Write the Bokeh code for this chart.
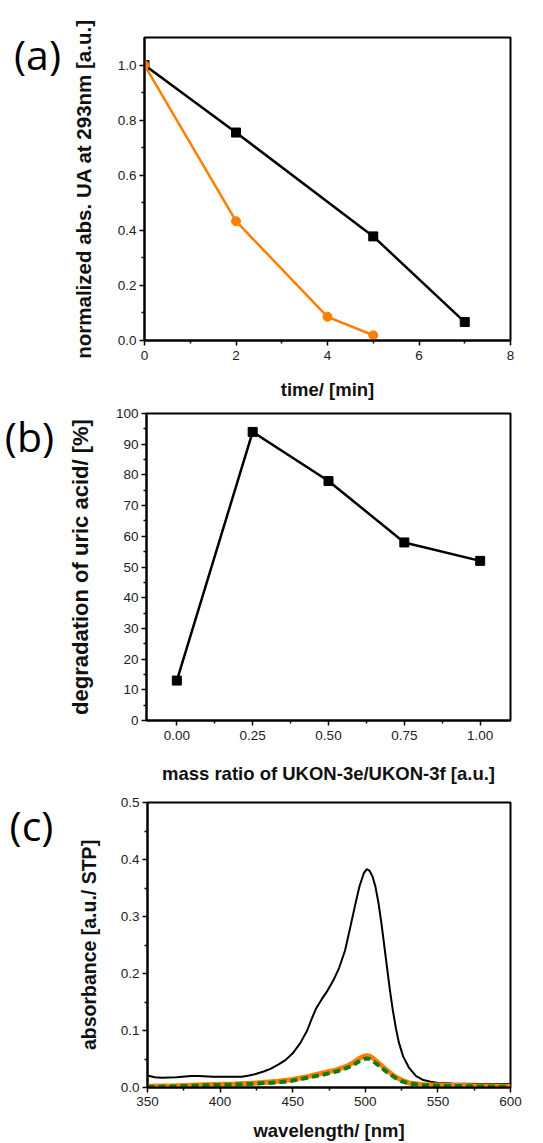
from bokeh.plotting import figure
from bokeh.layouts import column, row
from bokeh.models import FixedTicker, PrintfTickFormatter, Range1d
from bokeh.core.properties import value
from bokeh.embed import file_html
from bokeh.resources import INLINE

# ---- panel (a) data ----
time_black = [0, 2, 5, 7]
abs_black = [1.0, 0.755, 0.378, 0.067]
time_orange = [0, 2, 4, 5]
abs_orange = [1.0, 0.433, 0.086, 0.019]

# ---- panel (b) data ----
mass_ratio = [0.0, 0.25, 0.5, 0.75, 1.0]
degradation = [13, 94, 78, 58, 52]

# ---- panel (c) data ----
wl_black = [350, 355, 360, 370, 380, 385, 395, 405, 415, 420, 425, 430, 435, 440, 445,
            450, 455, 460, 463, 466, 470, 474, 478, 482, 486, 490, 493, 496, 499, 501,
            503, 505, 507, 509, 511, 513, 515, 517, 519, 521, 523, 526, 530, 535, 540,
            545, 550, 560, 580, 600]
ab_black = [0.021, 0.018, 0.017, 0.018, 0.020, 0.020, 0.019, 0.019, 0.019, 0.021, 0.024,
            0.028, 0.033, 0.040, 0.048, 0.060, 0.077, 0.100, 0.120, 0.138, 0.155, 0.170,
            0.188, 0.210, 0.240, 0.285, 0.320, 0.353, 0.376, 0.383, 0.380, 0.370, 0.352,
            0.325, 0.290, 0.250, 0.210, 0.170, 0.135, 0.105, 0.080, 0.055, 0.035, 0.020,
            0.013, 0.010, 0.008, 0.007, 0.006, 0.006]
wl_color = [350, 370, 390, 410, 425, 440, 450, 460, 470, 480, 487, 492, 496, 499, 501,
            503, 506, 510, 515, 520, 525, 530, 540, 555, 575, 600]
ab_orange = [0.002, 0.003, 0.005, 0.006, 0.008, 0.011, 0.014, 0.019, 0.025, 0.031, 0.037,
             0.044, 0.051, 0.055, 0.056, 0.055, 0.050, 0.041, 0.030, 0.020, 0.013, 0.008,
             0.005, 0.004, 0.003, 0.002]
ab_green = [0.001, 0.002, 0.004, 0.005, 0.007, 0.009, 0.012, 0.017, 0.022, 0.028, 0.034,
            0.040, 0.046, 0.050, 0.051, 0.050, 0.045, 0.037, 0.027, 0.018, 0.011, 0.007,
            0.004, 0.003, 0.002, 0.001]

panel_letters = ["(a)", "(b)", "(c)"]

ORANGE = "#FF7F00"
GREEN = "#127A12"
TICK_FONT = "Liberation Sans"
TICK_SIZE = "13.5px"
XLABEL_SIZE = "18.5px"
LETTER_W = 64
MAIN_W = 543 - LETTER_W


def style(p, xlabel, ylabel, xticks, xminor, yticks, yminor, xfmt, yfmt,
          xstand, ystand, ysize, xlabstand=5):
    p.outline_line_color = "black"
    p.outline_line_width = 2
    p.outline_line_alpha = 1
    p.xgrid.visible = False
    p.ygrid.visible = False
    p.background_fill_color = "white"
    p.border_fill_color = "white"
    for ax, ticks, minor, fmt, lab, stand, size in (
        (p.xaxis[0], xticks, xminor, xfmt, xlabel, xstand, XLABEL_SIZE),
        (p.yaxis[0], yticks, yminor, yfmt, ylabel, ystand, ysize),
    ):
        ax.ticker = FixedTicker(ticks=ticks, minor_ticks=minor)
        ax.formatter = PrintfTickFormatter(format=fmt)
        ax.axis_line_width = 2
        ax.axis_line_color = "black"
        ax.major_tick_line_width = 1.5
        ax.minor_tick_line_width = 1.5
        ax.major_tick_out = 5
        ax.major_tick_in = 0
        ax.minor_tick_out = 3
        ax.minor_tick_in = 0
        ax.major_label_text_font = TICK_FONT
        ax.major_label_text_font_size = TICK_SIZE
        ax.major_label_text_color = "#222222"
        ax.axis_label = lab
        ax.axis_label_text_font = TICK_FONT
        ax.axis_label_text_font_size = size
        ax.axis_label_text_font_style = "bold"
        ax.axis_label_text_color = "#111111"
        ax.axis_label_standoff = stand
    p.xaxis[0].major_label_standoff = xlabstand
    p.yaxis[0].major_label_standoff = 3


def letter_fig(height, txt, cx, cy):
    f = figure(width=LETTER_W, height=height, output_backend="svg", toolbar_location=None,
               title=None, frame_align=False,
               x_range=Range1d(0, LETTER_W), y_range=Range1d(height, 0),
               x_axis_location=None, y_axis_location=None,
               min_border=0, min_border_left=0, min_border_right=0,
               min_border_top=0, min_border_bottom=0)
    f.outline_line_color = None
    f.xgrid.visible = False
    f.ygrid.visible = False
    f.text(x=[cx], y=[cy], text=[txt], text_font=value("Open Sans"),
           text_font_size="41px", text_color="black",
           text_align="center", text_baseline="middle")
    return f


# ---------- (a) ----------
HA = 402
pa = figure(width=MAIN_W, height=HA, output_backend="svg", toolbar_location=None,
            x_range=Range1d(0, 8), y_range=Range1d(0, 1.1),
            min_border_left=144 - LETTER_W, min_border_right=33,
            min_border_top=37, min_border_bottom=62)
style(pa, "time/ [min]", "normalized abs. UA at 293nm [a.u.]",
      [0, 2, 4, 6, 8], [1, 3, 5, 7],
      [0.0, 0.2, 0.4, 0.6, 0.8, 1.0], [0.1, 0.3, 0.5, 0.7, 0.9],
      "%d", "%.1f", 16, 20, "20.5px")
pa.line(time_black, abs_black, line_color="black", line_width=2.5)
pa.scatter(time_black, abs_black, marker="square", size=9, fill_color="black", line_color="black")
pa.line(time_orange, abs_orange, line_color=ORANGE, line_width=2.5)
pa.scatter(time_orange, abs_orange, marker="circle", size=9, fill_color=ORANGE, line_color=ORANGE)
la = letter_fig(HA, panel_letters[0], 37, 53)

# ---------- (b) ----------
HB = 384
pb = figure(width=MAIN_W, height=HB, output_backend="svg", toolbar_location=None,
            x_range=Range1d(-0.1, 1.1), y_range=Range1d(0, 100),
            min_border_left=143 - LETTER_W, min_border_right=33,
            min_border_top=11, min_border_bottom=66)
style(pb, "mass ratio of UKON-3e/UKON-3f [a.u.]", "degradation of uric acid/ [%]",
      [0.0, 0.25, 0.5, 0.75, 1.0], [0.125, 0.375, 0.625, 0.875],
      list(range(0, 101, 10)), list(range(5, 100, 10)),
      "%.2f", "%d", 20, 20, "22px")
pb.line(mass_ratio, degradation, line_color="black", line_width=2.5)
pb.scatter(mass_ratio, degradation, marker="square", size=9, fill_color="black", line_color="black")
lb = letter_fig(HB, panel_letters[1], 29, 33)

# ---------- (c) ----------
HC = 1143 - HA - HB
pc = figure(width=MAIN_W, height=HC, output_backend="svg", toolbar_location=None,
            x_range=Range1d(350, 600), y_range=Range1d(0, 0.5),
            min_border_left=147 - LETTER_W, min_border_right=33,
            min_border_top=16, min_border_bottom=56)
style(pc, "wavelength/ [nm]", "absorbance [a.u./ STP]",
      [350, 400, 450, 500, 550, 600], [375, 425, 475, 525, 575],
      [0.0, 0.1, 0.2, 0.3, 0.4, 0.5], [0.05, 0.15, 0.25, 0.35, 0.45],
      "%d", "%.1f", 11, 18, "19.5px", xlabstand=4)
pc.line(wl_black, ab_black, line_color="black", line_width=2)
pc.line(wl_color, ab_orange, line_color=ORANGE, line_width=5)
pc.line(wl_color, ab_green, line_color=GREEN, line_width=4, line_dash="7 4")
lc = letter_fig(HC, panel_letters[2], 31, 38)

layout = column(row(la, pa, spacing=0), row(lb, pb, spacing=0), row(lc, pc, spacing=0),
                spacing=0)
open("out.html", "w").write(file_html(layout, INLINE))
